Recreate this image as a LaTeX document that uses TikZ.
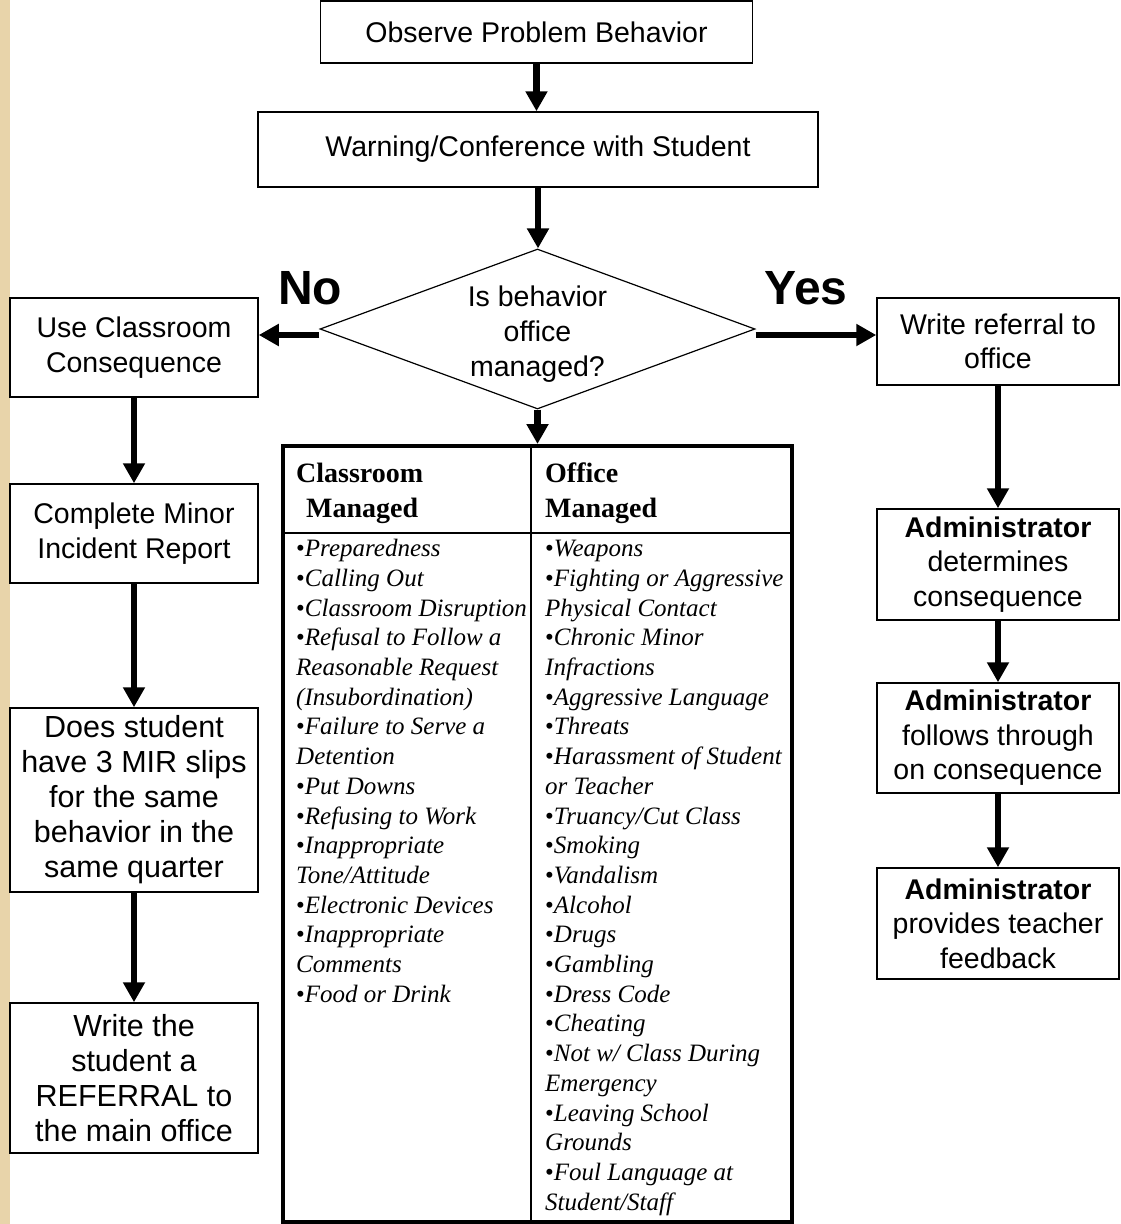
\documentclass[tikz,border=0pt]{standalone}
\usepackage{fontspec}
\setmainfont{Liberation Serif}
\setsansfont{Liberation Sans}
\usetikzlibrary{shapes.geometric,arrows.meta}
\definecolor{parchment}{RGB}{232,212,170}
\newcommand\itembul{{\upshape\textbullet}}

\begin{document}
\begin{tikzpicture}[x=1pt,y=-1pt,
		box/.style={draw,line width=1.5pt,fill=white,align=center,inner sep=0pt,
			font=\sffamily\fontsize{28.5}{34.5}\selectfont},
		lbox/.style={box,minimum width=248pt},
		rbox/.style={box,minimum width=242pt},
		bigtext/.style={font=\sffamily\fontsize{30.5}{35}\selectfont},
		flow/.style={line width=6.5pt,-{Triangle[length=20pt,width=21pt]}},
		answer/.style={font=\sffamily\bfseries\fontsize{48}{56}\selectfont,inner sep=0pt},
		cell/.style={anchor=north west,align=left,inner sep=0pt}]
			\useasboundingbox (0,0) rectangle (1120,1224);
			\fill[white] (0,0) rectangle (1120,1224);
			\fill[parchment] (0,0) rectangle (10,1224);
			% main line
			\node[box,minimum width=432pt,minimum height=62pt] (obs) at (536.5,32) {Observe Problem Behavior};
			\node[box,minimum width=560pt,minimum height=75pt] (warn) at (538,149.5) {Warning/Conference with Student};
			\node[diamond,draw,line width=1.2pt,fill=white,aspect=2.72,minimum width=435pt,minimum height=160pt,
				inner sep=0pt,align=center,font=\sffamily\fontsize{28.5}{35}\selectfont] (dia) at (537.5,329) {\rule{0pt}{30pt}Is behavior\\office\\managed?};
			\node[answer] (no) at (310,288) {No};
			\node[answer] (yes) at (806,288) {Yes};
			% left column
			\node[lbox,minimum height=99pt] (cls) at (134,347.5) {Use Classroom\\Consequence};
			\node[lbox,minimum height=99pt] (minor) at (134,533.5) {Complete Minor\\Incident Report};
			\node[lbox,bigtext,minimum height=184pt] (mir) at (134,800) {Does student\\have 3 MIR slips\\for the same\\behavior in the\\same quarter};
			\node[lbox,bigtext,minimum height=150pt] (wref) at (134,1078) {Write the\\student a\\REFERRAL to\\the main office};
			% right column
			\node[rbox,minimum height=87pt] (ref) at (998,341.5) {Write referral to\\office};
			\node[rbox,minimum height=111pt] (adm1) at (998,564.5) {\textbf{Administrator}\\determines\\consequence};
			\node[rbox,minimum height=110pt] (adm2) at (998,738) {\textbf{Administrator}\\follows through\\on consequence};
			\node[rbox,minimum height=111pt] (adm3) at (998,923.5) {\textbf{Administrator}\\provides teacher\\feedback};
			% table
			\node[draw,line width=4pt,minimum width=509pt,minimum height=776pt,inner sep=0pt] (tbl) at (537.5,834) {};
			\draw[line width=2pt] (531,446) -- (531,1222);
			\draw[line width=2pt] (tbl.west |- 0,533) -- (tbl.east |- 0,533);
			\node[cell,font=\bfseries\fontsize{28}{35}\selectfont] (chead) at (296,457.5) {\strut Classroom\\\hspace*{10pt}Managed};
			\node[cell,font=\bfseries\fontsize{28}{35}\selectfont] (ohead) at (545,457.5) {\strut Office\\Managed};
			\node[cell,font=\itshape\fontsize{25}{29.7}\selectfont] (cbody) at (296,535.7) {\strut\itembul Preparedness\\
				\itembul Calling Out\\
				\itembul Classroom Disruption\\
				\itembul Refusal to Follow a\\
				Reasonable Request\\
				(Insubordination)\\
				\itembul Failure to Serve a\\
				Detention\\
				\itembul Put Downs\\
				\itembul Refusing to Work\\
				\itembul Inappropriate\\
				Tone/Attitude\\
				\itembul Electronic Devices\\
				\itembul Inappropriate\\
				Comments\\
				\itembul Food or Drink};
			\node[cell,font=\itshape\fontsize{25}{29.7}\selectfont] (obody) at (545,535.7) {\strut\itembul Weapons\\
				\itembul Fighting or Aggressive\\
				Physical Contact\\
				\itembul Chronic Minor\\
				Infractions\\
				\itembul Aggressive Language\\
				\itembul Threats\\
				\itembul Harassment of Student\\
				or Teacher\\
				\itembul Truancy/Cut Class\\
				\itembul Smoking\\
				\itembul Vandalism\\
				\itembul Alcohol\\
				\itembul Drugs\\
				\itembul Gambling\\
				\itembul Dress Code\\
				\itembul Cheating\\
				\itembul Not w/ Class During\\
				Emergency\\
				\itembul Leaving School\\
				Grounds\\
				\itembul Foul Language at\\
				Student/Staff};
			% arrows
			\draw[flow] (obs.south) -- (obs.south |- warn.north);
			\draw[flow] (warn.south) -- (warn.south |- dia.north);
			\draw[flow] ([yshift=-6pt]dia.west) -- ([yshift=-6pt]dia.west -| cls.east);
			\draw[flow] ([yshift=-6pt]dia.east) -- ([yshift=-6pt]dia.east -| ref.west);
			\draw[flow] (dia.south) -- (dia.south |- tbl.north);
			\draw[flow] (cls.south) -- (minor.north);
			\draw[flow] (minor.south) -- (mir.north);
			\draw[flow] (mir.south) -- (wref.north);
			\draw[flow] (ref.south) -- (adm1.north);
			\draw[flow] (adm1.south) -- (adm2.north);
			\draw[flow] (adm2.south) -- (adm3.north);
		\end{tikzpicture}
\end{document}
